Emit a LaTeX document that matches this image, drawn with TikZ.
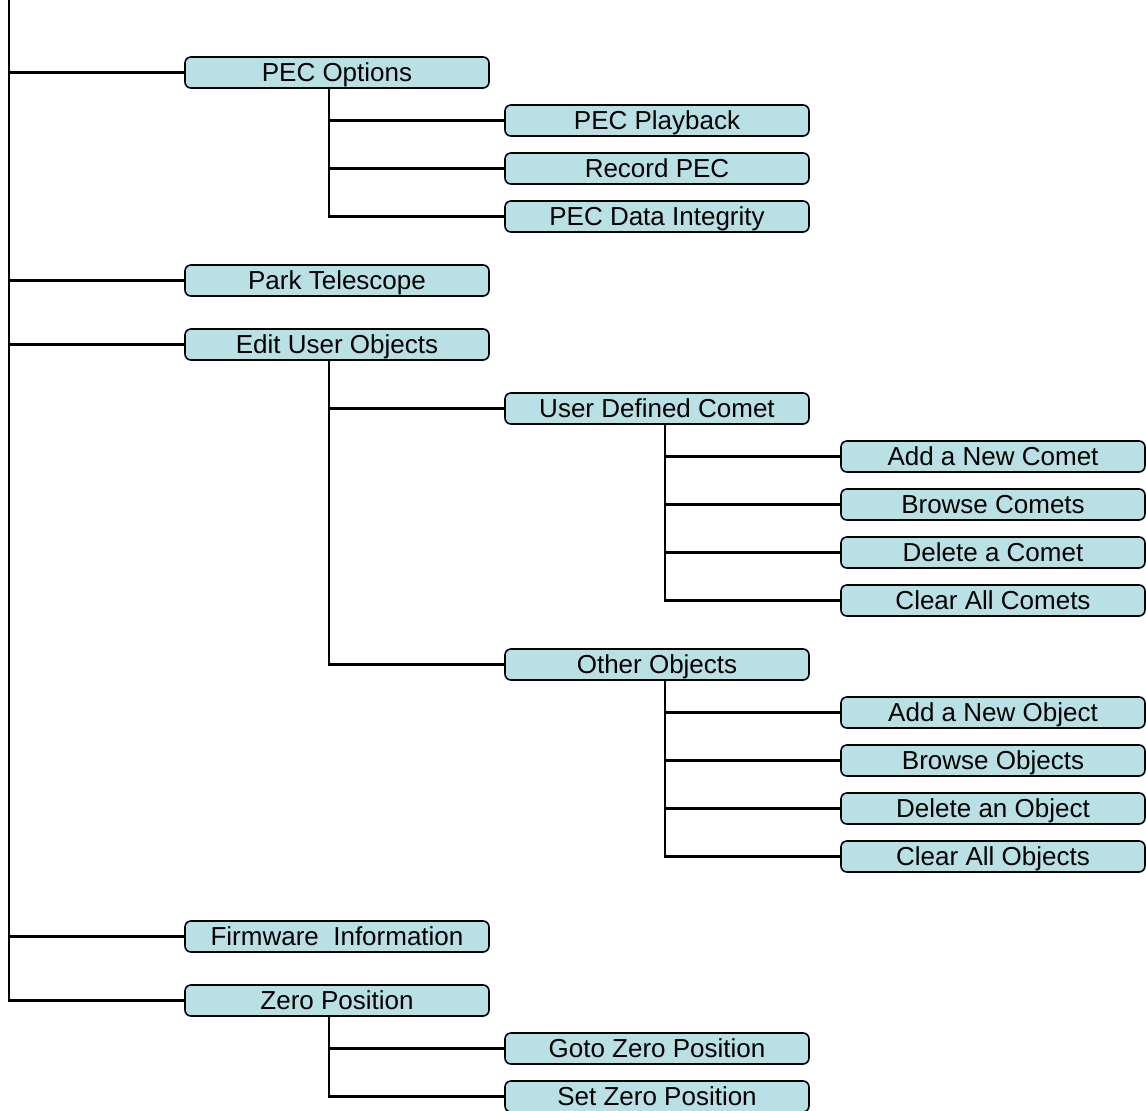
\documentclass[tikz,border=0pt]{standalone}
\usepackage{fontspec}
\setmainfont{Liberation Sans}
\definecolor{boxfill}{RGB}{185,224,228}
\begin{document}
\begin{tikzpicture}[x=1pt,y=-1pt,
  item/.style={draw=black, line width=1.6pt, fill=boxfill, rounded corners=6pt,
    minimum width=304pt, minimum height=31pt, inner sep=0pt,
    text height=23.5pt, text depth=5pt,
    font=\fontsize{26}{30}\selectfont},
  link/.style={line width=2.8pt, draw=black}]
\useasboundingbox (0,0) rectangle (1146,1111);
% level 1
\node[item] (pec)  at (337,72.5) {PEC Options};
\node[item] (park) at (337,280.5) {Park Telescope};
\node[item] (edit) at (337,344.5) {Edit User Objects};
\node[item] (firm) at (337,936.5) {Firmware\ \ Information};
\node[item] (zero) at (337,1000.5) {Zero Position};
% level 2
\node[item] (pplay) at (657,120.5) {PEC Playback};
\node[item] (prec)  at (657,168.5) {Record PEC};
\node[item] (pdata) at (657,216.5) {PEC Data Integrity};
\node[item] (comet) at (657,408.5) {User Defined Comet};
\node[item] (other) at (657,664.5) {Other Objects};
\node[item] (gzero) at (657,1048.5) {Goto Zero Position};
\node[item] (szero) at (657,1096.5) {Set Zero Position};
% level 3
\node[item] (cadd) at (993,456.5) {Add a New Comet};
\node[item] (cbro) at (993,504.5) {Browse Comets};
\node[item] (cdel) at (993,552.5) {Delete a Comet};
\node[item] (cclr) at (993,600.5) {Clear All Comets};
\node[item] (oadd) at (993,712.5) {Add a New Object};
\node[item] (obro) at (993,760.5) {Browse Objects};
\node[item] (odel) at (993,808.5) {Delete an Object};
\node[item] (oclr) at (993,856.5) {Clear All Objects};
% connectors
\coordinate (root) at (9,0);
\foreach \c in {pec,park,edit,firm,zero} \draw[link] (root) |- (\c.west);
\foreach \c in {pplay,prec,pdata} \draw[link] ([xshift=-8pt]pec.south) |- (\c.west);
\foreach \c in {comet,other} \draw[link] ([xshift=-8pt]edit.south) |- (\c.west);
\foreach \c in {gzero,szero} \draw[link] ([xshift=-8pt]zero.south) |- (\c.west);
\foreach \c in {cadd,cbro,cdel,cclr} \draw[link] ([xshift=8pt]comet.south) |- (\c.west);
\foreach \c in {oadd,obro,odel,oclr} \draw[link] ([xshift=8pt]other.south) |- (\c.west);
\end{tikzpicture}
\end{document}
